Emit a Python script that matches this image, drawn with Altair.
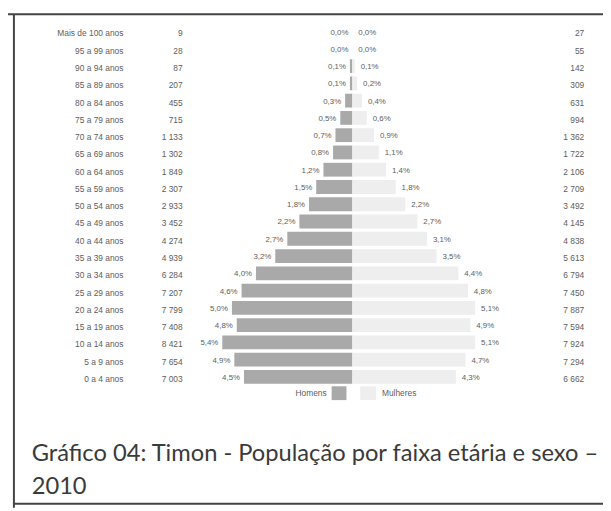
import altair as alt
import pandas as pd

ages = ["Mais de 100 anos", "95 a 99 anos", "90 a 94 anos", "85 a 89 anos",
        "80 a 84 anos", "75 a 79 anos", "70 a 74 anos", "65 a 69 anos",
        "60 a 64 anos", "55 a 59 anos", "50 a 54 anos", "45 a 49 anos",
        "40 a 44 anos", "35 a 39 anos", "30 a 34 anos", "25 a 29 anos",
        "20 a 24 anos", "15 a 19 anos", "10 a 14 anos", "5 a 9 anos", "0 a 4 anos"]
homens = [9, 28, 87, 207, 455, 715, 1133, 1302, 1849, 2307, 2933, 3452, 4274,
          4939, 6284, 7207, 7799, 7408, 8421, 7654, 7003]
mulheres = [27, 55, 142, 309, 631, 994, 1362, 1722, 2106, 2709, 3492, 4145,
            4838, 5613, 6794, 7450, 7887, 7594, 7924, 7294, 6662]
pct_homens = [0.0, 0.0, 0.1, 0.1, 0.3, 0.5, 0.7, 0.8, 1.2, 1.5, 1.8, 2.2, 2.7,
              3.2, 4.0, 4.6, 5.0, 4.8, 5.4, 4.9, 4.5]
pct_mulheres = [0.0, 0.0, 0.1, 0.2, 0.4, 0.6, 0.9, 1.1, 1.4, 1.8, 2.2, 2.7,
                3.1, 3.5, 4.4, 4.8, 5.1, 4.9, 5.1, 4.7, 4.3]
legend_names = ["Homens", "Mulheres"]
caption_lines = ["Gráfico 04: Timon - População por faixa etária e sexo –", "2010"]

def fmt_int(v):
    return f"{v:,}".replace(",", " ")

def fmt_pct(v):
    return f"{v:.1f}%".replace(".", ",")

df = pd.DataFrame({
    "age": ages,
    "h": homens,
    "m": mulheres,
    "ph": pct_homens,
    "pm": pct_mulheres,
})
df["neg_h"] = -df["ph"]
df["zero"] = 0.0
df["lab_h"] = df["ph"].map(fmt_pct)
df["lab_m"] = df["pm"].map(fmt_pct)
df["cnt_h"] = df["h"].map(fmt_int)
df["cnt_m"] = df["m"].map(fmt_int)

MEN = "#a9a9a9"
WOMEN = "#eeeeee"
TXT = "#5e5e5e"
FONT = "Liberation Sans"

xs = alt.Scale(domain=[-14.3, 10.41], nice=False, zero=False)
ys = alt.Scale(domain=ages, range=[11.75, 379.25], paddingInner=0.2, paddingOuter=0.1)
Y = alt.Y("age:N", sort=ages, scale=ys, axis=None)

base = alt.Chart(df)

bars_h = base.mark_bar(color=MEN).encode(
    x=alt.X("neg_h:Q", scale=xs, axis=None), x2="zero:Q", y=Y)
bars_m = base.mark_bar(color=WOMEN).encode(
    x=alt.X("pm:Q", scale=xs, axis=None), x2="zero:Q", y=Y)

lab_h = base.mark_text(align="right", baseline="middle", dx=-4, dy=1, fontSize=8,
                       font=FONT, color=TXT).encode(
    x=alt.X("neg_h:Q", scale=xs, axis=None), y=Y, text="lab_h:N")
lab_m = base.mark_text(align="left", baseline="middle", dx=6, dy=1, fontSize=8,
                       font=FONT, color=TXT).encode(
    x=alt.X("pm:Q", scale=xs, axis=None), y=Y, text="lab_m:N")

age_txt = base.mark_text(align="right", baseline="middle", dy=2, fontSize=8.5,
                         font=FONT, color=TXT).encode(
    x=alt.value(117), y=Y, text="age:N")
cnt_h = base.mark_text(align="right", baseline="middle", dy=2, fontSize=8.5,
                       font=FONT, color=TXT).encode(
    x=alt.value(177), y=Y, text="cnt_h:N")
cnt_m = base.mark_text(align="right", baseline="middle", dy=2, fontSize=8.5,
                       font=FONT, color=TXT).encode(
    x=alt.value(584), y=Y, text="cnt_m:N")

one = pd.DataFrame({"k": [0]})
leg_h_txt = alt.Chart(one).mark_text(align="right", baseline="middle", fontSize=8.5,
                                     font=FONT, color=TXT).encode(
    x=alt.value(323), y=alt.value(387), text=alt.value(legend_names[0]))
leg_h_sw = alt.Chart(one).mark_rect(color=MEN).encode(
    x=alt.value(328), x2=alt.value(343), y=alt.value(380), y2=alt.value(394))
leg_m_sw = alt.Chart(one).mark_rect(color=WOMEN).encode(
    x=alt.value(357), x2=alt.value(373), y=alt.value(380), y2=alt.value(394))
leg_m_txt = alt.Chart(one).mark_text(align="left", baseline="middle", fontSize=8.5,
                                     font=FONT, color=TXT).encode(
    x=alt.value(379), y=alt.value(387), text=alt.value(legend_names[1]))

cap1 = alt.Chart(one).mark_text(align="left", baseline="middle", fontSize=24,
                                font="Lato", color="#3a3a3a").encode(
    x=alt.value(24), y=alt.value(449), text=alt.value(caption_lines[0]))
cap2 = alt.Chart(one).mark_text(align="left", baseline="middle", fontSize=24,
                                font="Lato", color="#3a3a3a").encode(
    x=alt.value(24), y=alt.value(482), text=alt.value(caption_lines[1]))

top_line = alt.Chart(one).mark_rule(color="#444", strokeWidth=2).encode(
    x=alt.value(0), x2=alt.value(603), y=alt.value(3))
left_line = alt.Chart(one).mark_rule(color="#444", strokeWidth=2).encode(
    x=alt.value(6), y=alt.value(3), y2=alt.value(503))
bottom_line = alt.Chart(one).mark_rule(color="#444", strokeWidth=2).encode(
    x=alt.value(6), x2=alt.value(603), y=alt.value(499))

chart = alt.layer(
    bars_h, bars_m, lab_h, lab_m, age_txt, cnt_h, cnt_m,
    leg_h_txt, leg_h_sw, leg_m_sw, leg_m_txt, cap1, cap2,
    top_line, left_line, bottom_line,
).properties(
    width=603, height=503,
    autosize=alt.AutoSizeParams(type="none"),
    padding=0,
    background="white",
).configure_view(stroke=None)

chart.save("out.html", embed_options={"renderer": "svg", "actions": False})
